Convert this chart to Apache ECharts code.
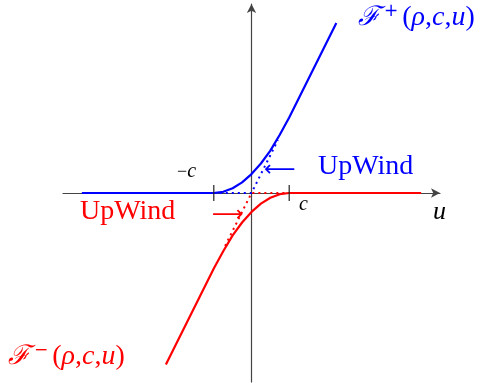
<!DOCTYPE html>
<html><head><meta charset="utf-8">
<script src="https://cdn.jsdelivr.net/npm/echarts@6/dist/echarts.min.js"></script>
<style>html,body{margin:0;padding:0;background:#fff}#c{width:487px;height:383px}</style>
</head><body><div id="c"></div>
<script>
// F+ (blue) curve (c = 1)
const plusU = [-4.5, -1, -0.75, -0.5, -0.25, 0, 0.25, 0.5, 0.75, 1, 2.25];
const plusF = [0, 0, 0.016, 0.063, 0.14, 0.25, 0.39, 0.56, 0.77, 1, 2.25];
// F- (red) curve
const minusU = [-2.27, -1, -0.75, -0.5, -0.25, 0, 0.25, 0.5, 0.75, 1, 4.5];
const minusF = [-2.27, -1, -0.77, -0.56, -0.39, -0.25, -0.14, -0.063, -0.016, 0, 0];
// Upwind (dotted) fluxes
const upPlusU = [-1, 0, 0.7];
const upPlusF = [0, 0, 0.7];
const upMinusU = [-0.7, 0, 1];
const upMinusF = [-0.7, 0, 0];
// tick marks at -c and c
const tickU = [-1, 1];

const zip = (a, b) => a.map((x, i) => [x, b[i]]);
const chart = echarts.init(document.getElementById('c'));
const serif = '"Liberation Serif","DejaVu Serif",serif';
function fLabel(sign, color) {
  return {
    text: '{f|ℱ}{s|' + sign + '}{p|(}{i|ρ}{p|,}{i|c}{p|,}{i|u}{p|)}', fill: color,
    rich: {f: {fontFamily: '"DejaVu Serif",serif', fontSize: 27, fill: color, fontStyle: 'italic'},
           s: {fontFamily: '"DejaVu Sans",sans-serif', fontSize: 17, fill: color, verticalAlign: 'top', padding: [0, 4, 13, 4]},
           p: {fontFamily: serif, fontSize: 28, fill: color},
           i: {fontFamily: serif, fontSize: 28, fill: color, fontStyle: 'italic'}}
  };
}
chart.setOption({
  animation: false,
  grid: {left: 63, top: 4, width: 377, height: 378},
  xAxis: {type: 'value', min: -5, max: 5, splitLine: {show: false},
    axisLabel: {show: false}, axisTick: {show: false},
    axisLine: {lineStyle: {color: '#444', width: 1.2}, symbol: ['none', 'arrow'], symbolSize: [7, 9]}},
  yAxis: {type: 'value', min: -2.5, max: 2.5, splitLine: {show: false},
    axisLabel: {show: false}, axisTick: {show: false},
    axisLine: {lineStyle: {color: '#444', width: 1.2}, symbol: ['none', 'arrow'], symbolSize: [7, 9]}},
  series: [
    {type: 'line', data: zip(upPlusU, upPlusF), showSymbol: false, lineStyle: {color: '#0000ff', width: 2, type: [2, 4]}},
    {type: 'line', data: zip(upMinusU, upMinusF), showSymbol: false, lineStyle: {color: '#ff0000', width: 2, type: [2, 4]}},
    {type: 'line', data: zip(minusU, minusF), showSymbol: false, lineStyle: {color: '#ff0000', width: 2.2}},
    {type: 'line', data: zip(plusU, plusF), showSymbol: false, lineStyle: {color: '#0000ff', width: 2.2}},
    {type: 'custom', data: tickU.map(u => [u, 0]), z: 5,
      renderItem: (params, api) => {
        const p = api.coord([api.value(0), 0]);
        return {type: 'line', shape: {x1: p[0], y1: p[1] - 8, x2: p[0], y2: p[1] + 8},
          style: {stroke: '#222', lineWidth: 1.2}};
      }}
  ],
  graphic: [
    {type: 'text', left: 358, top: 3, style: fLabel('+', '#0000ff')},
    {type: 'text', left: 8, top: 342, style: fLabel('−', '#ff0000')},
    {type: 'text', left: 318, top: 153, style: {text: 'UpWind', fill: '#0000ff', font: '28px ' + serif}},
    {type: 'text', left: 80, top: 198, style: {text: 'UpWind', fill: '#ff0000', font: '28px ' + serif}},
    {type: 'text', left: 264, top: 159, style: {text: '⟵', fill: '#0000ff', font: '22px "DejaVu Sans",sans-serif'}},
    {type: 'text', left: 212, top: 204, style: {text: '⟶', fill: '#ff0000', font: '22px "DejaVu Sans",sans-serif'}},
    {type: 'text', left: 177, top: 162, style: {text: '−{i|c}', fill: '#000', font: '18px ' + serif,
      rich: {i: {fontFamily: serif, fontSize: 20, fontStyle: 'italic', fill: '#000'}}}},
    {type: 'text', left: 299, top: 195, style: {text: 'c', fill: '#000', font: 'italic 20px ' + serif}},
    {type: 'text', left: 433, top: 199, style: {text: 'u', fill: '#000', font: 'italic 26px ' + serif}}
  ]
});
</script></body></html>
